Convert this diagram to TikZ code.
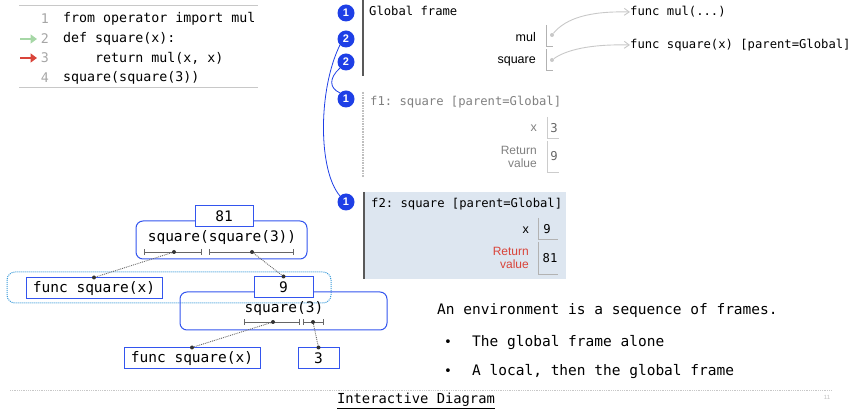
\documentclass[tikz,border=0pt]{standalone}
\usepackage{fontspec}
\setmainfont{Liberation Sans}
\setmonofont{DejaVu Sans Mono}
\usetikzlibrary{arrows.meta}
\definecolor{badge}{HTML}{1E3FE6}
\definecolor{treeblue}{HTML}{3355EE}
\definecolor{regionblue}{HTML}{3A9AD9}
\definecolor{framebg}{HTML}{DDE6F0}
\definecolor{retred}{HTML}{D9443A}
\definecolor{curgreen}{HTML}{A6D7A6}
\definecolor{lightrule}{HTML}{C8C8C8}
\tikzset{
    codetxt/.style={font=\ttfamily\fontsize{13.3}{15}\selectfont, anchor=west, inner sep=0pt},
    lineno/.style={codetxt, anchor=east, text=gray!70},
    frametxt/.style={font=\ttfamily\fontsize{12.2}{14}\selectfont, anchor=west, inner sep=0pt},
    varname/.style={font=\fontsize{12.5}{13}\selectfont, anchor=east, inner sep=0pt},
    retlabel/.style={font=\fontsize{12}{13}\selectfont, anchor=east, align=right, inner sep=0pt},
    valtxt/.style={font=\ttfamily\fontsize{12.2}{14}\selectfont, inner sep=0pt},
    badgenode/.style={circle, fill=badge, minimum size=17pt, inner sep=0pt, text=white,
        font=\bfseries\fontsize{11}{11}\selectfont},
    valbox/.style={draw=gray!60, line width=0.8pt},
    treetxt/.style={font=\ttfamily\fontsize{14.5}{16}\selectfont},
    leafbox/.style={treetxt, draw=treeblue, fill=white, line width=1pt, minimum height=21pt, inner sep=0pt},
    callbox/.style={draw=treeblue, line width=1pt, rounded corners=7pt, inner sep=0pt},
    brk/.style={draw=gray!80!black, line width=0.8pt, {Bar[width=6pt]}-{Bar[width=6pt]}},
    dotline/.style={draw=gray!80!black, densely dotted, line width=0.9pt},
    endpt/.style={circle, fill=gray!40!black, inner sep=0pt, minimum size=4pt},
    ptr/.style={draw=lightrule, line width=0.9pt, -{Straight Barb[length=5pt,width=7pt]}},
    bodytxt/.style={font=\ttfamily\fontsize{14.5}{16}\selectfont, anchor=west, inner sep=0pt},
    linearrow/.style={line width=2.8pt, -{Triangle[length=6.5pt,width=9pt]}}
}

\begin{document}
\begin{tikzpicture}[x=1pt, y=-1pt]
    \useasboundingbox (0,0) rectangle (854,411);
    %code
    \draw[lightrule, line width=0.8pt] (19,5) -- (258,5);
    \draw[lightrule, line width=0.8pt] (19,87) -- (258,87);
    \node[lineno] (l1) at (49,19) {1};
    \node[lineno] (l2) at (49,39) {2};
    \node[lineno] (l3) at (49,58) {3};
    \node[lineno] (l4) at (49,78) {4};
    \node[codetxt] (c1) at (63,19) {from operator import mul};
    \node[codetxt] (c2) at (63,39) {def square(x):};
    \node[codetxt] (c3) at (63,58) {\ \ \ \ return mul(x, x)};
    \node[codetxt] (c4) at (63,78) {square(square(3))};
    \draw[curgreen, linearrow] (20,39) -- (37,39);
    \draw[retred, linearrow] (20,58) -- (37,58);

    %global
    \draw[gray!70!black, line width=2pt] (363,0) -- (363,76);
    \node[frametxt] (gf) at (369,11) {Global frame};
    \node[varname] (vmul) at (536,37) {mul};
    \node[varname] (vsq) at (536,61) {square};
    \draw[valbox] (546,25) -- (546,46) -- (553,46);
    \draw[valbox] (546,49) -- (546,70) -- (553,70);
    \node[circle, fill=lightrule, inner sep=0pt, minimum size=4pt] (pmul) at (552,35) {};
    \node[circle, fill=lightrule, inner sep=0pt, minimum size=4pt] (psq) at (552,60) {};
    \node[frametxt] (fmul) at (630,12) {func mul(...)};
    \node[frametxt] (fsq) at (630,45) {func square(x) [parent=Global]};
    \draw[ptr] (pmul) .. controls (566,18) and (590,11) .. (fmul.west);
    \draw[ptr] (psq) .. controls (566,50) and (590,44) .. (fsq.west);

    %f1
    \draw[gray!50, densely dotted, line width=1.6pt] (363,92) -- (363,177);
    \node[frametxt, text=gray] (f1t) at (370,102) {f1: square [parent=Global]};
    \node[varname, text=gray] (f1x) at (537,128) {x};
    \node[retlabel, text=gray] (f1r) at (537,157) {Return\\value};
    \draw[valbox, draw=gray!40] (547,117) -- (547,138) -- (559,138);
    \draw[valbox, draw=gray!40] (547,141) -- (547,172) -- (559,172);
    \node[valtxt, text=gray!80!black] (f1xv) at (554,128) {3};
    \node[valtxt, text=gray!80!black] (f1rv) at (554,156) {9};

    %f2
    \fill[framebg] (363,192) rectangle (566,279);
    \draw[gray!70!black, line width=2pt] (364,192) -- (364,279);
    \node[frametxt] (f2t) at (371,204) {f2: square [parent=Global]};
    \node[varname] (f2x) at (529,230) {x};
    \node[retlabel, text=retred] (f2r) at (529,258) {Return\\value};
    \draw[valbox] (538,218) -- (538,239) -- (558,239);
    \draw[valbox] (538,242) -- (538,274) -- (558,274);
    \node[valtxt] (f2xv) at (547,229) {9};
    \node[valtxt] (f2rv) at (550,258) {81};

    %badges
    \node[badgenode] (b1) at (346,13) {1};
    \node[badgenode] (b2) at (346,39) {2};
    \node[badgenode] (b3) at (346,62) {2};
    \node[badgenode] (b4) at (346,99) {1};
    \node[badgenode] (b5) at (346,202) {1};
    \draw[badge, line width=0.8pt] (b2.south west) .. controls (318,90) and (318,170) .. (b5.north west);
    \draw[badge, line width=0.8pt] (b3.south west) .. controls (329,78) and (329,88) .. (b4.north west);

    %tree
    \draw[regionblue, densely dotted, line width=1pt, rounded corners=8pt] (7,272) rectangle (331,303);
    \node[callbox, minimum width=171pt, minimum height=38pt] (outer) at (221.5,240) {};
    \node[treetxt] (outert) at (222,238) {square(square(3))};
    \node[leafbox, minimum width=58pt] (n81) at (224,216.5) {81};
    \node[leafbox, minimum width=136pt] (fsq1) at (94,288.5) {func square(x)};
    \node[callbox, minimum width=207pt, minimum height=38pt] (inner) at (283.5,311) {};
    \node[treetxt] (innert) at (284,309) {square(3)};
    \node[leafbox, minimum width=59pt] (n9) at (283.5,287.5) {9};
    \node[leafbox, minimum width=136pt] (fsq2) at (192,358.5) {func square(x)};
    \node[leafbox, minimum width=41pt] (n3) at (318.5,358.5) {3};
    \draw[brk] (144,252) -- (202,252);
    \draw[brk] (209,252) -- (294,252);
    \draw[brk] (244,322) -- (300,322);
    \draw[brk] (303,322) -- (324,322);
    \node[endpt] (d1) at (174,252) {};
    \node[endpt] (d2) at (252,252) {};
    \node[endpt] (d3) at (273,322) {};
    \node[endpt] (d4) at (313,322) {};
    \node[endpt] (e1) at (fsq1.north) {};
    \node[endpt] (e2) at (n9.north) {};
    \node[endpt] (e3) at (fsq2.north) {};
    \node[endpt] (e4) at (n3.north) {};
    \draw[dotline] (d1) -- (e1);
    \draw[dotline] (d2) -- (e2);
    \draw[dotline] (d3) -- (e3);
    \draw[dotline] (d4) -- (e4);

    %text
    \node[bodytxt] (env) at (437,311) {An environment is a sequence of frames.};
    \node[bodytxt, font=\ttfamily\fontsize{13}{13}\selectfont] (bul1) at (444,343) {•};
    \node[bodytxt] (it1) at (472,343) {The global frame alone};
    \node[bodytxt, font=\ttfamily\fontsize{13}{13}\selectfont] (bul2) at (444,372) {•};
    \node[bodytxt] (it2) at (472,372) {A local, then the global frame};

    %footer
    \draw[lightrule, densely dotted, line width=0.8pt] (10,390) -- (832,390);
    \node[font=\ttfamily\fontsize{13.8}{15}\selectfont, inner sep=0pt] (link) at (416,401) {\underline{Interactive Diagram}};
    \node[font=\fontsize{6}{6}\selectfont, text=gray!50, inner sep=0pt] (pg) at (827,397) {11};
\end{tikzpicture}
\end{document}
